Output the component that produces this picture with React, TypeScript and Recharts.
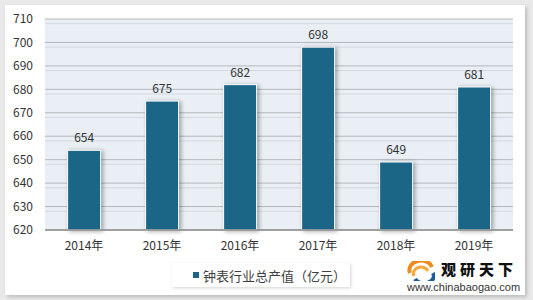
import React from "react"
import { Bar, BarChart, CartesianGrid, LabelList, Legend, XAxis, YAxis } from "recharts"

const years = ["2014年", "2015年", "2016年", "2017年", "2018年", "2019年"]
const output = [654, 675, 682, 698, 649, 681]
const yTicks = [620, 630, 640, 650, 660, 670, 680, 690, 700, 710]
const minorLines = [
  622, 624, 626, 628, 632, 634, 636, 638, 642, 644, 646, 648, 652, 654, 656, 658, 662, 664, 666, 668,
  672, 674, 676, 678, 682, 684, 686, 688, 692, 694, 696, 698, 702, 704, 706, 708,
]
const seriesName = "钟表行业总产值（亿元）"

const data = years.map((year, i) => ({ year, value: output[i] }))

const BAR = "#1b6587"
const FONT = "'Noto Sans CJK SC', 'Noto Sans', sans-serif"

const BarShape = (props: any) => {
  const { x, y, width, height } = props
  return (
    <rect
      x={x}
      y={y}
      width={width}
      height={height}
      fill={BAR}
      stroke="#ffffff"
      strokeWidth={1}
      style={{ filter: "drop-shadow(2px 1px 2px rgba(0,0,0,0.35))" }}
    />
  )
}

const LegendBox = () => (
  <div
    style={{
      width: 178,
      height: 24,
      background: "#fff",
      boxShadow: "1px 1px 3px rgba(0,0,0,0.18)",
      display: "flex",
      alignItems: "center",
      fontFamily: FONT,
      fontSize: 13,
      color: "#404040",
    }}
  >
    <span style={{ width: 6, height: 6, background: BAR, marginLeft: 21, marginRight: 4 }} />
    <span>{seriesName}</span>
  </div>
)

const Logo = () => (
  <div style={{ position: "absolute", left: 405, top: 259, width: 120, height: 34, fontFamily: FONT }}>
    <svg width={28} height={20} style={{ position: "absolute", left: 2, top: 2 }}>
      <path d="M3 12 A11 9 0 0 1 25 6" stroke="#f08a1c" strokeWidth={4} fill="none" />
      <path d="M7 15 A7 6 0 0 1 21 10" stroke="#f5a83a" strokeWidth={3} fill="none" />
      <path d="M8 18 A8 6 0 0 0 26 12" stroke="#1f5d9c" strokeWidth={4} fill="none" />
    </svg>
    <div
      style={{
        position: "absolute",
        left: 36,
        top: 2,
        fontSize: 15,
        fontWeight: 900,
        letterSpacing: 4,
        color: "#111",
        lineHeight: "16px",
      }}
    >
      观研天下
    </div>
    <div
      style={{
        position: "absolute",
        left: 2,
        top: 22,
        fontSize: 11,
        color: "#333",
        fontFamily: "'Liberation Sans', Arial, sans-serif",
        lineHeight: "12px",
      }}
    >
      www.chinabaogao.com
    </div>
  </div>
)

export default function App() {
  return (
    <div style={{ position: "absolute", left: 0, top: 0, width: 533, height: 300, background: "#e9e9e9" }}>
      <div
        style={{
          position: "absolute",
          left: 5,
          top: 5,
          width: 520,
          height: 290,
          background: "#fff",
          boxShadow: "2px 2px 4px rgba(0,0,0,0.2)",
        }}
      />
      <div style={{ position: "absolute", left: 0, top: 0 }}>
        <BarChart
          width={533}
          height={300}
          data={data}
          margin={{ top: 19, right: 20, bottom: 45, left: 0 }}
          barCategoryGap="29%"
        >
          <CartesianGrid
            horizontalValues={minorLines}
            vertical={false}
            stroke="#d3d8de"
            fill="#e9eff5"
          />
          <CartesianGrid horizontalValues={yTicks} vertical={false} stroke="#b4b8bd" />
          <XAxis
            dataKey="year"
            tickLine={false}
            axisLine={{ stroke: "#8c8c8c", strokeWidth: 1.5 }}
            tickMargin={5}
            height={25}
            tick={{ fill: "#333", fontSize: 12, fontFamily: FONT }}
          />
          <YAxis
            domain={[620, 710]}
            ticks={yTicks}
            width={45}
            tickLine={false}
            axisLine={false}
            tickMargin={6}
            tick={{ fill: "#333", fontSize: 12, fontFamily: FONT }}
          />
          <Legend
            verticalAlign="middle"
            align="center"
            content={<LegendBox />}
            wrapperStyle={{ top: 263, left: 172, width: 178, height: 24 }}
          />
          <Bar dataKey="value" name={seriesName} shape={<BarShape />} isAnimationActive={false}>
            <LabelList
              dataKey="value"
              position="top"
              offset={8}
              fill="#333"
              fontSize={12}
              fontFamily={FONT}
            />
          </Bar>
        </BarChart>
      </div>
      <Logo />
    </div>
  )
}
